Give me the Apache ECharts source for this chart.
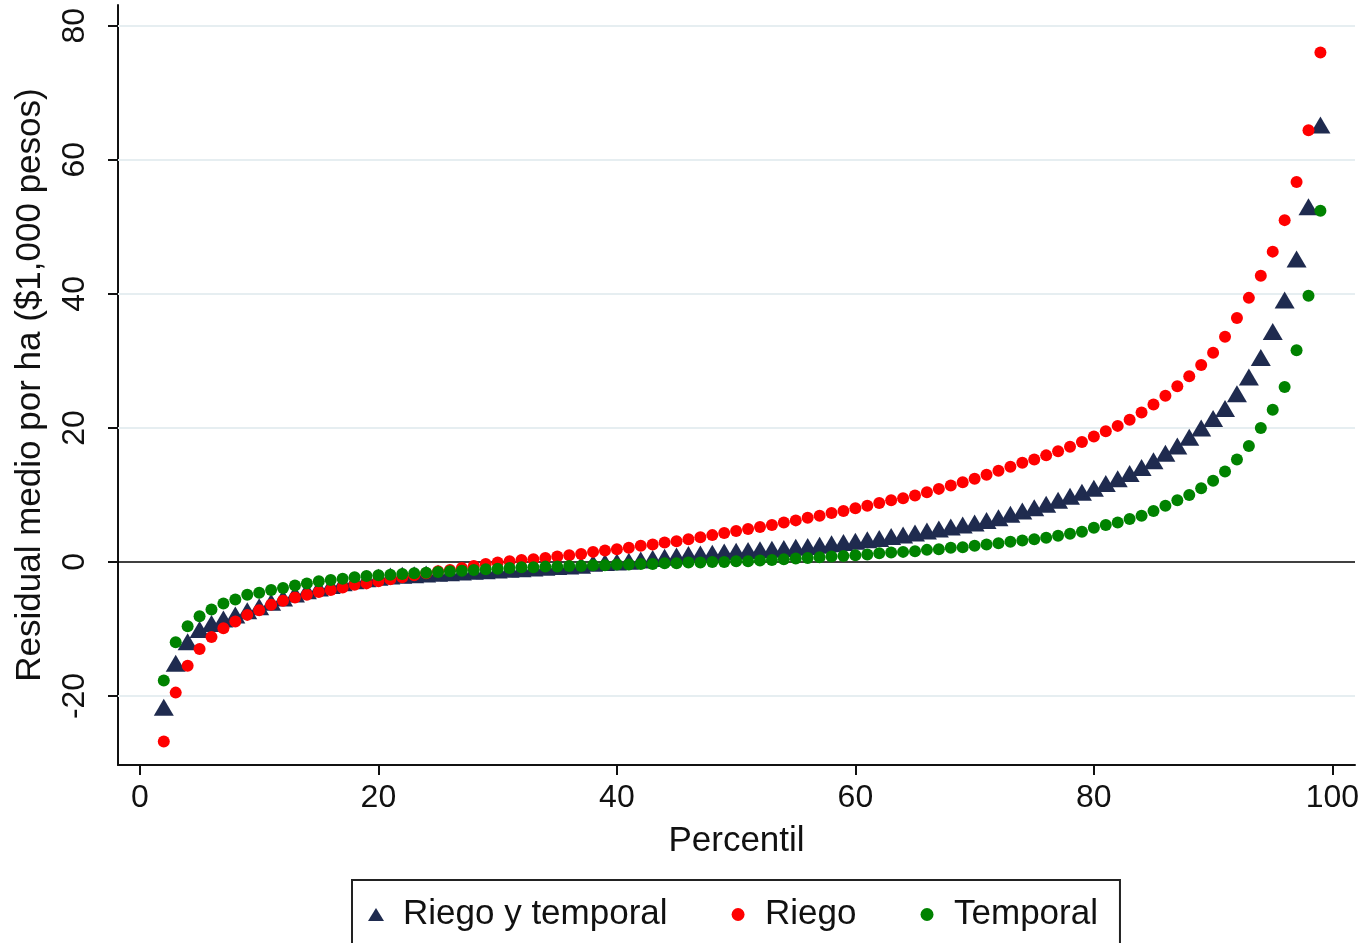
<!DOCTYPE html>
<html>
<head>
<meta charset="utf-8">
<script src="https://cdn.jsdelivr.net/npm/echarts@6/dist/echarts.min.js"></script>
<style>
  html, body { margin: 0; padding: 0; background: #fff; }
  #chart { width: 1362px; height: 943px; }
</style>
</head>
<body>
<div id="chart"></div>
<script>
// percentiles 2..99
const percentiles = [];
for (let p = 2; p <= 99; p++) percentiles.push(p);

const riegoYTemporal = [
  -21.7, -15.1, -11.9, -10.1, -9.2, -8.5, -7.9, -7.3, -6.7,      // 2-10
  -6.0, -5.4, -4.8, -4.3, -3.9, -3.5, -3.1, -2.8, -2.5, -2.3,    // 11-20
  -2.1, -2.0, -1.9, -1.8, -1.7, -1.6, -1.5, -1.4, -1.3, -1.2,    // 21-30
  -1.1, -1.0, -0.9, -0.8, -0.7, -0.6, -0.5, -0.2, -0.1, 0.0,     // 31-40
  0.1, 0.3, 0.5, 0.7, 0.9, 1.1, 1.2, 1.3, 1.5, 1.6,              // 41-50
  1.7, 1.8, 1.9, 2.0, 2.2, 2.3, 2.5, 2.7, 2.9, 3.1,              // 51-60
  3.3, 3.5, 3.8, 4.0, 4.3, 4.6, 4.9, 5.2, 5.5, 5.8,              // 61-70
  6.2, 6.6, 7.1, 7.6, 8.1, 8.6, 9.2, 9.8, 10.4, 11.0,            // 71-80
  11.7, 12.4, 13.2, 14.1, 15.1, 16.2, 17.3, 18.6, 20.0, 21.4,    // 81-90
  22.9, 25.1, 27.6, 30.5, 34.4, 39.1, 45.2, 53.0, 65.2           // 91-99
];

const riego = [
  -26.8, -19.5, -15.5, -13.0, -11.2, -9.9, -8.9, -7.9, -7.2,     // 2-10
  -6.4, -5.8, -5.3, -4.9, -4.5, -4.2, -3.8, -3.4, -3.2, -2.9,    // 11-20
  -2.6, -2.3, -2.0, -1.7, -1.4, -1.2, -0.9, -0.6, -0.3, -0.1,    // 21-30
  0.1, 0.3, 0.4, 0.6, 0.8, 1.0, 1.2, 1.5, 1.7, 1.9,              // 31-40
  2.1, 2.4, 2.6, 2.9, 3.1, 3.4, 3.7, 4.0, 4.3, 4.6,              // 41-50
  4.9, 5.2, 5.5, 5.9, 6.2, 6.6, 6.9, 7.3, 7.6, 8.0,              // 51-60
  8.4, 8.8, 9.2, 9.5, 9.9, 10.4, 10.9, 11.4, 11.9, 12.4,         // 61-70
  13.0, 13.6, 14.2, 14.8, 15.3, 15.9, 16.5, 17.2, 17.9, 18.7,    // 71-80
  19.5, 20.3, 21.2, 22.3, 23.5, 24.8, 26.2, 27.7, 29.4, 31.2,    // 81-90
  33.6, 36.4, 39.4, 42.7, 46.3, 51.0, 56.7, 64.4, 76.0           // 91-99
];

const temporal = [
  -17.7, -12.0, -9.6, -8.1, -7.1, -6.2, -5.6, -4.9, -4.6,        // 2-10
  -4.2, -3.9, -3.5, -3.2, -2.9, -2.7, -2.5, -2.3, -2.1, -2.0,    // 11-20
  -1.9, -1.8, -1.7, -1.6, -1.5, -1.4, -1.3, -1.2, -1.1, -1.0,    // 21-30
  -0.9, -0.8, -0.8, -0.7, -0.7, -0.6, -0.6, -0.5, -0.5, -0.4,    // 31-40
  -0.4, -0.3, -0.3, -0.2, -0.2, -0.1, -0.1, 0.0, 0.0, 0.1,       // 41-50
  0.1, 0.2, 0.3, 0.4, 0.5, 0.6, 0.7, 0.8, 0.9, 1.0,              // 51-60
  1.1, 1.3, 1.4, 1.5, 1.6, 1.8, 1.9, 2.1, 2.2, 2.4,              // 61-70
  2.6, 2.8, 3.0, 3.2, 3.4, 3.6, 3.9, 4.2, 4.5, 5.1,              // 71-80
  5.5, 5.9, 6.4, 6.9, 7.6, 8.4, 9.2, 10.0, 11.0, 12.1,           // 81-90
  13.5, 15.3, 17.3, 20.0, 22.7, 26.1, 31.6, 39.7, 52.4           // 91-99
];

const xTicks = [0, 20, 40, 60, 80, 100];
const yTicks = [-20, 0, 20, 40, 60, 80];
const gridValues = [-20, 20, 40, 60, 80];

const FONT = 'Liberation Sans, Arial, sans-serif';
const pair = arr => arr.map((v, i) => [percentiles[i], v]);

const chart = echarts.init(document.getElementById('chart'));

chart.setOption({
  backgroundColor: '#ffffff',
  animation: false,
  grid: { left: 118, right: 7, top: 5, bottom: 178, outerBoundsMode: 'none', containLabel: false },
  xAxis: {
    type: 'value',
    min: -1.84,
    max: 101.9,
    name: 'Percentil',
    nameLocation: 'middle',
    nameGap: 59,
    nameTextStyle: { fontFamily: FONT, fontSize: 35, color: '#111' },
    axisLine: { onZero: false, lineStyle: { color: '#111', width: 2 } },
    axisTick: { customValues: xTicks, length: 10, lineStyle: { color: '#111', width: 2 } },
    axisLabel: { customValues: xTicks, margin: 17, fontFamily: FONT, fontSize: 32, color: '#111' },
    splitLine: { show: false }
  },
  yAxis: {
    type: 'value',
    min: -30.3,
    max: 83.1,
    name: 'Residual medio por ha ($1,000 pesos)',
    nameLocation: 'middle',
    nameGap: 70,
    nameRotate: 90,
    nameTextStyle: { fontFamily: FONT, fontSize: 35, color: '#111' },
    axisLine: { onZero: false, lineStyle: { color: '#111', width: 2 } },
    axisTick: { customValues: yTicks, length: 10, lineStyle: { color: '#111', width: 2 } },
    axisLabel: { customValues: yTicks, rotate: 90, margin: 27, fontFamily: FONT, fontSize: 32, color: '#111' },
    splitLine: { show: false }
  },
  legend: {
    left: 352,
    top: 880,
    padding: [17, 22, 30, 16],
    borderColor: '#222',
    borderWidth: 2,
    borderRadius: 0,
    itemWidth: 16,
    itemHeight: 13,
    itemGap: 64,
    textStyle: { fontFamily: FONT, fontSize: 35, color: '#111', padding: [0, 0, 0, 14] },
    data: [
      { name: 'Riego y temporal', icon: 'triangle' },
      { name: 'Riego', icon: 'circle' },
      { name: 'Temporal', icon: 'circle' }
    ]
  },
  series: [
    {
      name: 'gridlines',
      type: 'scatter',
      data: [],
      silent: true,
      markLine: {
        silent: true,
        symbol: 'none',
        z: 1,
        label: { show: false },
        data: gridValues.map(v => ({ yAxis: v, lineStyle: { color: '#e6eef1', width: 2, type: 'solid' } }))
          .concat([{ yAxis: 0, lineStyle: { color: '#000', width: 1.5, type: 'solid' } }])
      }
    },
    {
      name: 'Riego y temporal',
      type: 'scatter',
      symbol: 'triangle',
      symbolSize: [20, 17],
      itemStyle: { color: '#1f2b4f', opacity: 1 },
      data: pair(riegoYTemporal)
    },
    {
      name: 'Riego',
      type: 'scatter',
      symbol: 'circle',
      symbolSize: 12,
      itemStyle: { color: '#ff0000', opacity: 1 },
      data: pair(riego)
    },
    {
      name: 'Temporal',
      type: 'scatter',
      symbol: 'circle',
      symbolSize: 12,
      itemStyle: { color: '#008200', opacity: 1 },
      data: pair(temporal)
    }
  ]
});
</script>
</body>
</html>
